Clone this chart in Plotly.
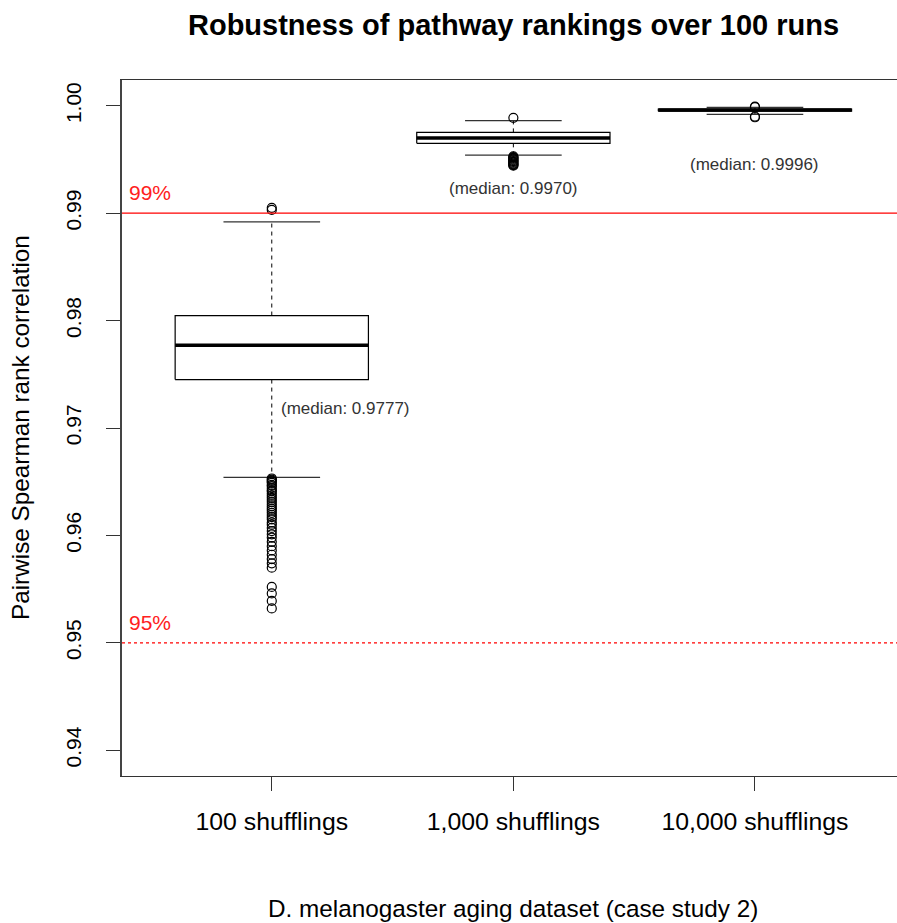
import plotly.graph_objects as go

# ---- data ----
categories = ["100 shufflings", "1,000 shufflings", "10,000 shufflings"]
lower_whisker = [0.9654, 0.99540, 0.99920]
q1_vals = [0.97451, 0.99650, 0.99950]
medians = [0.9777, 0.9970, 0.9996]
q3_vals = [0.98047, 0.99752, 0.99970]
upper_whisker = [0.9892, 0.99862, 0.99985]

outliers_100 = [0.9905, 0.9903, 0.9653, 0.9652, 0.9651, 0.9650, 0.9649, 0.9647,
                0.9646, 0.9644, 0.9642, 0.9641, 0.9639, 0.9637, 0.9635, 0.9633,
                0.9631, 0.9629, 0.9627, 0.9625, 0.9623, 0.9621, 0.9619, 0.9617,
                0.9615, 0.9612, 0.9610, 0.9607, 0.9604, 0.9601, 0.9598, 0.9594,
                0.9590, 0.9586, 0.9582, 0.9578, 0.9574, 0.9570, 0.9552, 0.9546,
                0.9539, 0.9532]
outliers_1000 = [0.99888, 0.99530, 0.99522, 0.99515, 0.99508, 0.99500, 0.99493,
                 0.99485, 0.99478, 0.99470, 0.99462, 0.99455, 0.99448, 0.99442]
outliers_10000 = [0.99992, 0.99988, 0.99900, 0.99893]
outliers = [outliers_100, outliers_1000, outliers_10000]

thresholds = [0.99, 0.95]
threshold_labels = ["99%", "95%"]
threshold_dash = ["solid", "dot"]

y_ticks = [0.94, 0.95, 0.96, 0.97, 0.98, 0.99, 1.00]

FONT = "Liberation Sans, Arial, Helvetica, sans-serif"
BOX_HALF = 0.4
CAP_HALF = 0.2

fig = go.Figure()

for i, cat in enumerate(categories):
    c = i + 1
    # box rectangle
    fig.add_trace(go.Scatter(
        x=[c - BOX_HALF, c + BOX_HALF, c + BOX_HALF, c - BOX_HALF, c - BOX_HALF],
        y=[q1_vals[i], q1_vals[i], q3_vals[i], q3_vals[i], q1_vals[i]],
        mode="lines", line=dict(color="black", width=1.2), hoverinfo="skip"))
    # median
    fig.add_trace(go.Scatter(
        x=[c - BOX_HALF, c + BOX_HALF], y=[medians[i], medians[i]],
        mode="lines", line=dict(color="black", width=3.5), hoverinfo="skip"))
    # whiskers (dashed)
    fig.add_trace(go.Scatter(
        x=[c, c], y=[q3_vals[i], upper_whisker[i]],
        mode="lines", line=dict(color="black", width=1, dash="4px,4px"), hoverinfo="skip"))
    fig.add_trace(go.Scatter(
        x=[c, c], y=[q1_vals[i], lower_whisker[i]],
        mode="lines", line=dict(color="black", width=1, dash="4px,4px"), hoverinfo="skip"))
    # caps
    for w in (upper_whisker[i], lower_whisker[i]):
        fig.add_trace(go.Scatter(
            x=[c - CAP_HALF, c + CAP_HALF], y=[w, w],
            mode="lines", line=dict(color="#333333", width=1.3), hoverinfo="skip"))
    # outliers
    fig.add_trace(go.Scatter(
        x=[c] * len(outliers[i]), y=outliers[i], mode="markers",
        marker=dict(symbol="circle-open", size=9, color="black", line=dict(width=1.2)),
        hoverinfo="y"))

# threshold lines
for t, lab, d in zip(thresholds, threshold_labels, threshold_dash):
    fig.add_shape(type="line", xref="paper", x0=0, x1=1, yref="y", y0=t, y1=t,
                  line=dict(color="#ff0000", width=1.2, dash=d))
    fig.add_annotation(x=0.006, xref="paper", y=t, yref="y", text=lab,
                       showarrow=False, xanchor="left", yanchor="bottom", yshift=7,
                       font=dict(family=FONT, size=21, color="#ff2020"))

# median labels
med_label_pos = [(1.03, "left", -0.0059), (2, "center", -0.0047), (3, "center", -0.0051)]
for i, (mx, anchor, dy) in enumerate(med_label_pos):
    fig.add_annotation(x=mx, y=medians[i] + dy, xref="x", yref="y",
                       text=f"(median: {medians[i]:.4f})", showarrow=False,
                       xanchor=anchor, yanchor="middle",
                       font=dict(family=FONT, size=17, color="#333333"))

# title and axis titles
fig.add_annotation(x=0.5058, y=1.079, xref="paper", yref="paper",
                   text="<b>Robustness of pathway rankings over 100 runs</b>",
                   showarrow=False, xanchor="center", yanchor="middle",
                   font=dict(family=FONT, size=29, color="black"))
fig.add_annotation(x=0.5045, y=-0.1897, xref="paper", yref="paper",
                   text="D. melanogaster aging dataset (case study 2)",
                   showarrow=False, xanchor="center", yanchor="middle",
                   font=dict(family=FONT, size=24.3, color="black"))
fig.add_annotation(x=-0.1316, y=0.5, xref="paper", yref="paper",
                   text="Pairwise Spearman rank correlation", textangle=-90,
                   showarrow=False, xanchor="center", yanchor="middle",
                   font=dict(family=FONT, size=24.3, color="black"))

fig.update_layout(
    width=897, height=923,
    margin=dict(l=122, r=0, t=80, b=147),
    paper_bgcolor="white", plot_bgcolor="white",
    showlegend=False,
    font=dict(family=FONT, color="black"),
    xaxis=dict(range=[0.38, 3.588], tickvals=[1, 2, 3], ticktext=categories,
               ticks="outside", ticklen=14, tickcolor="#333333", tickwidth=1,
               showline=True, linecolor="#333333", linewidth=1.2, mirror=True,
               showgrid=False, zeroline=False,
               tickfont=dict(family=FONT, size=24.8, color="black"),
               ticklabelstandoff=9),
    yaxis=dict(range=[0.9376, 1.0024], tickvals=y_ticks,
               ticktext=[f"{v:.2f}" for v in y_ticks], tickangle=-90,
               ticks="outside", ticklen=14, tickcolor="#333333", tickwidth=1,
               showline=True, linecolor="#444444", linewidth=2,
               showgrid=False, zeroline=False,
               tickfont=dict(family=FONT, size=21, color="black"),
               ticklabelstandoff=17),
)

fig.write_html("out.html",
               config={"displayModeBar": False},
               post_script="document.body.style.margin='0';document.body.style.overflow='hidden';")
